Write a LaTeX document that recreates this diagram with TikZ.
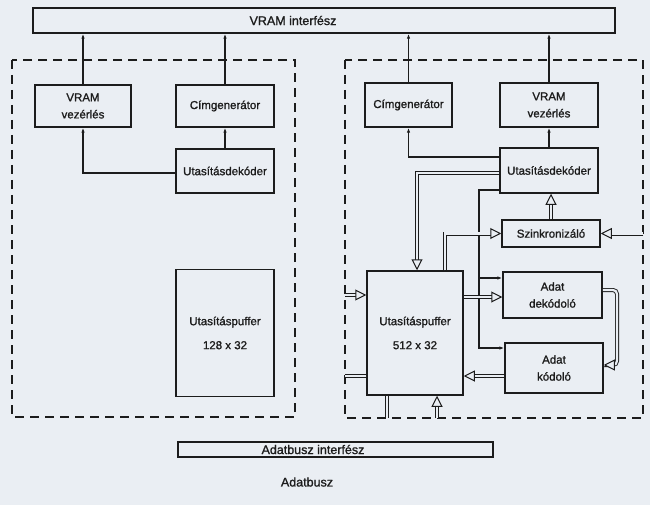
\documentclass[tikz,border=0pt]{standalone}
\usepackage{fontspec}
\setmainfont{Liberation Sans}[FakeBold=1.2]
\usetikzlibrary{arrows.meta}
\definecolor{bg}{RGB}{234,238,243}
\definecolor{ink}{RGB}{28,28,28}
\begin{document}
\begin{tikzpicture}[x=1pt,y=-1pt,
 box/.style={draw=ink, line width=1.5pt, inner sep=0pt, align=center, font=\fontsize{11.5}{17}\selectfont, text=ink},
 dbox/.style={draw=ink, line width=1.2pt, dash pattern=on 9pt off 6pt},
 sarr/.style={draw=ink, line width=1.2pt, -{Latex[length=5pt,width=3.5pt]}},
 sline/.style={draw=ink, line width=1.2pt},
 darr/.style={draw=ink, double=bg, double distance=2.2pt, line width=0.9pt, -{Triangle[open,fill=bg,length=11pt,width=11pt,line width=1pt]}},
 dline/.style={draw=ink, double=bg, double distance=2.2pt, line width=0.9pt},
 lbl/.style={font=\fontsize{12.5}{14}\selectfont, text=ink},
]
\fill[bg] (0,0) rectangle (650,505);

% top interface
\node[box, minimum width=582pt, minimum height=25pt] (vrami) at (324,20.5) {};
\node[lbl] (vramit) at (293,20.5) {VRAM interfész};

% left block
\draw[dbox] (12,60) rectangle (295,417);
\node[box, minimum width=96pt, minimum height=42pt] (lvv) at (83,106) {VRAM\\vezérlés};
\node[box, minimum width=98pt, minimum height=42pt] (lcg) at (225,106) {Címgenerátor};
\node[box, minimum width=98pt, minimum height=44pt] (lud) at (225,171) {Utasításdekóder};
\node[box, minimum width=98pt, minimum height=127pt, font=\fontsize{11.5}{24}\selectfont] (lup) at (225,333) {Utasításpuffer\\128 x 32};

\draw[sarr] (lvv.north) -- (lvv.north |- vrami.south);
\draw[sarr] (lcg.north) -- (lcg.north |- vrami.south);
\draw[sarr] (lud.north) -- (lcg.south);
\draw[sarr] ([yshift=-2pt]lud.west) -| (lvv.south);

% right block
\draw[dbox] (345,60) rectangle (643,418);
\node[box, minimum width=87pt, minimum height=44pt] (rcg) at (408.5,105) {Címgenerátor};
\node[box, minimum width=98pt, minimum height=44pt] (rvv) at (549,105) {VRAM\\vezérlés};
\node[box, minimum width=98pt, minimum height=45pt] (rud) at (549,170.5) {Utasításdekóder};
\node[box, minimum width=98pt, minimum height=27pt] (sz) at (551,233.5) {Szinkronizáló};
\node[box, minimum width=96pt, minimum height=124pt, font=\fontsize{11.5}{24}\selectfont] (rup) at (415,333) {Utasításpuffer\\512 x 32};
\node[box, minimum width=99pt, minimum height=46pt] (ad) at (552.5,295) {Adat\\dekódoló};
\node[box, minimum width=98pt, minimum height=50pt] (ak) at (554,368) {Adat\\kódoló};

\coordinate (j1) at (479,278);
\coordinate (rin) at (643,233.5);
\coordinate (lin) at (345,295);
\coordinate (lout) at (345,376);
\coordinate (b1) at (387,418);
\coordinate (b2) at (437,418);
\coordinate (rr) at (617,290);
\coordinate (adw) at ([yshift=-2pt]ad.west);
\coordinate (akw) at ([yshift=-8pt]ak.west);
\coordinate (akw2) at ([yshift=20pt]ak.west);
\coordinate (ade) at ([yshift=5pt]ad.east);
\coordinate (ake) at ([yshift=3pt]ak.east);

\draw[sarr] (rcg.north) -- (rcg.north |- vrami.south);
\draw[sarr, line width=2pt] (rvv.north) -- (rvv.north |- vrami.south);
\draw[sarr] (rud.north) -- (rvv.south);
\draw[sarr] ([yshift=13.5pt]rud.west) -| (rcg.south);
\draw[darr] ([yshift=-2.5pt]rud.west) -| ([xshift=2pt]rup.north);
\draw[sarr] ([yshift=-19.5pt]rud.west) -| (akw2 -| j1) -- (akw2);
\draw[sarr] (j1) -- (j1 -| ad.west);
\draw[darr] (sz.north) -- (sz.north |- rud.south);
\draw[darr] (rin) -- (sz.east);
\draw[darr] ([xshift=30pt]rup.north) |- (sz.west);
\draw[darr] (rup.east |- adw) -- (adw);
\draw[darr] (akw) -- (akw -| rup.east);
\draw[darr, rounded corners=4pt] (ade) -- (ade -| rr) -- (ake -| rr) -- (ake);
\draw[darr] (lin) -- (lin -| rup.west);
\draw[dline] (lout -| rup.west) -- (lout);
\draw[dline] (b1 |- rup.south) -- (b1);
\draw[darr] (b2) -- (b2 |- rup.south);

% bottom
\node[box, minimum width=315pt, minimum height=15pt] (adi) at (335.5,449.5) {};
\node[lbl] (adit) at (313,449.5) {Adatbusz interfész};
\node[lbl] (adb) at (307,482) {Adatbusz};
\end{tikzpicture}
\end{document}
